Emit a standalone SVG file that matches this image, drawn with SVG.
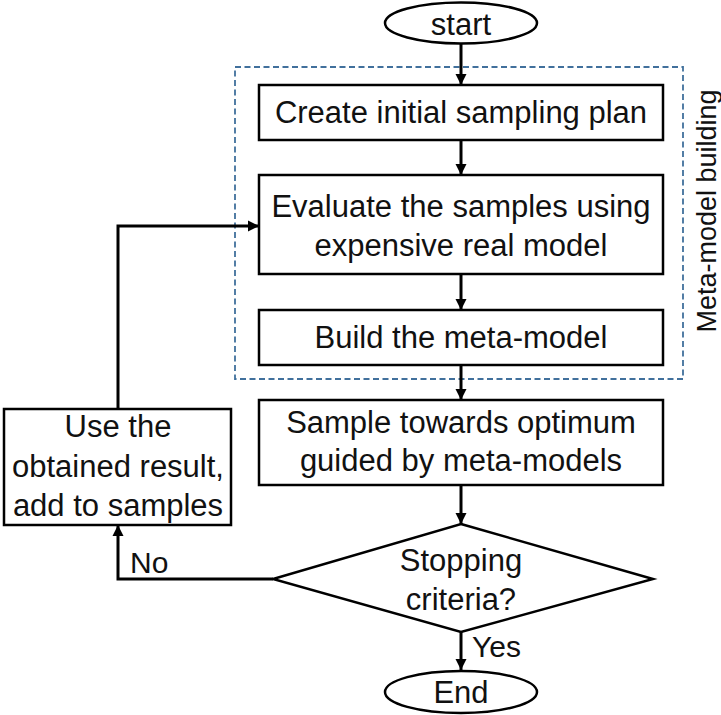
<svg xmlns="http://www.w3.org/2000/svg" width="721" height="715" viewBox="0 0 721 715">
<style>
.box{fill:#fff;stroke:#000;stroke-width:2.5}
.t{font-family:"Liberation Sans",Arial,sans-serif;font-size:31px;fill:#111;text-anchor:middle}
.lbl{font-family:"Liberation Sans",Arial,sans-serif;font-size:30px;fill:#111}
.c{fill:none;stroke:#000;stroke-width:3}
</style>
<defs>
<marker id="ah" markerUnits="userSpaceOnUse" markerWidth="12" markerHeight="12" refX="11" refY="6" orient="auto">
<path d="M0,0.5 L11,6 L0,11.5 Z" fill="#000"/>
</marker>
</defs>
<rect x="235" y="67" width="448" height="312" fill="none" stroke="#41709C" stroke-width="1.8" stroke-dasharray="6,3.5"/>
<g id="label-meta">
<text class="lbl" text-anchor="middle" transform="translate(716,211) rotate(-90)" style="font-size:27px">Meta-model building</text>
</g>
<g id="connectors">
<line class="c" x1="461" y1="44" x2="461" y2="85" marker-end="url(#ah)"/>
<line class="c" x1="461" y1="140" x2="461" y2="175" marker-end="url(#ah)"/>
<line class="c" x1="461" y1="274" x2="461" y2="310" marker-end="url(#ah)"/>
<line class="c" x1="461" y1="365" x2="461" y2="400" marker-end="url(#ah)"/>
<line class="c" x1="461" y1="485" x2="461" y2="524" marker-end="url(#ah)"/>
<line class="c" x1="461" y1="632" x2="461" y2="670" marker-end="url(#ah)"/>
<polyline class="c" points="273,579 118,579 118,525" marker-end="url(#ah)"/>
<polyline class="c" points="118,409 118,226 259,226" marker-end="url(#ah)"/>
<text class="lbl" x="130" y="573">No</text>
<text class="lbl" x="472" y="657">Yes</text>
</g>
<g id="start">
<ellipse cx="461" cy="23" rx="76" ry="20.5" class="box"/>
<text class="t" x="461" y="35">start</text>
</g>
<g id="create">
<rect x="259" y="85" width="404" height="55" class="box"/>
<text class="t" x="461" y="123">Create initial sampling plan</text>
</g>
<g id="evaluate">
<rect x="259" y="175" width="404" height="99" class="box"/>
<text class="t" x="461" y="217">Evaluate the samples using</text>
<text class="t" x="461" y="256">expensive real model</text>
</g>
<g id="build">
<rect x="259" y="310" width="404" height="55" class="box"/>
<text class="t" x="461" y="348">Build the meta-model</text>
</g>
<g id="sample">
<rect x="259" y="400" width="404" height="85" class="box"/>
<text class="t" x="461" y="433">Sample towards optimum</text>
<text class="t" x="461" y="471">guided by meta-models</text>
</g>
<g id="use">
<rect x="4" y="409" width="227" height="116" class="box"/>
<text class="t" x="118" y="437">Use the</text>
<text class="t" x="118" y="477">obtained result,</text>
<text class="t" x="118" y="516">add to samples</text>
</g>
<g id="stopping">
<polygon points="461,524 653,579 461,632 273,579" class="box"/>
<text class="t" x="461" y="571">Stopping</text>
<text class="t" x="461" y="610">criteria?</text>
</g>
<g id="end">
<ellipse cx="461" cy="692" rx="76" ry="21" class="box"/>
<text class="t" x="461" y="703">End</text>
</g>
</svg>
